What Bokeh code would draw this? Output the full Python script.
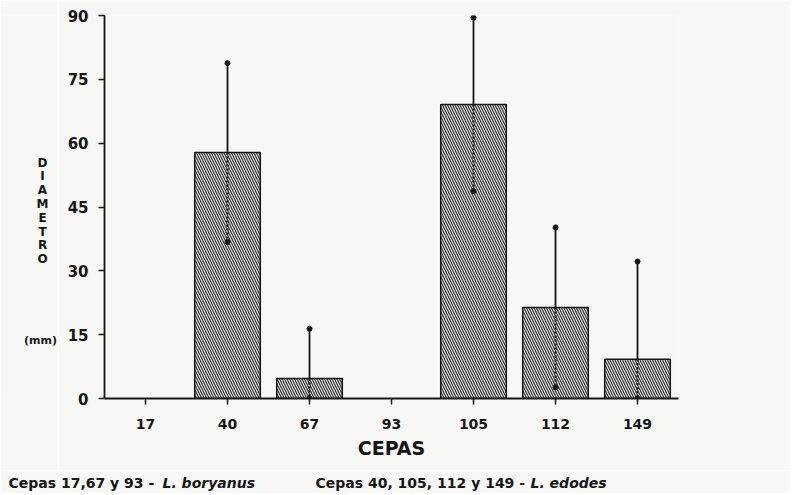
from bokeh.plotting import figure
from bokeh.models import ColumnDataSource, FactorRange, Range1d, FixedTicker
from bokeh.layouts import column, row
from bokeh.core.properties import value
from bokeh.embed import file_html
from bokeh.resources import INLINE

cepas = ["17", "40", "67", "93", "105", "112", "149"]
diametro = [0, 57.8, 4.7, 0, 69.1, 21.4, 9.2]
error = [0, 21.0, 11.7, 0, 20.4, 18.8, 23.0]
y_ticks = [0, 15, 30, 45, 60, 75, 90]
y_title = ["D", "I", "A", "M", "E", "T", "R", "O"]
unit = "(mm)"
x_title = "CEPAS"
captions = ["Cepas 17,67 y 93 - ", "L. boryanus", "Cepas 40, 105, 112 y 149 - ", "L. edodes"]

FONT = "DejaVu Sans"
BG = "#f7f7f5"
INK = "#151515"

# page geometry (pixels)
TOTAL_W = 790
LW = 58            # left title panel width
MH = 470           # main chart height
CH = 23            # caption strip height
FRAME_L, FRAME_R, FRAME_T, FRAME_B = 104, 678, 15, 398

def blank(fig):
    fig.background_fill_color = BG
    fig.border_fill_color = BG
    fig.outline_line_color = None
    fig.grid.visible = False

# ---------- left panel with stacked y title (its frame is aligned with main frame) ----------
yl = figure(width=LW, height=MH, x_range=Range1d(0, LW), y_range=Range1d(FRAME_B, FRAME_T),
            output_backend="svg", toolbar_location=None, min_border=0,
            min_border_top=FRAME_T, min_border_bottom=MH - FRAME_B)
blank(yl)
yl.axis.visible = False
yl.text(x=[42] * len(y_title), y=[162 + k * 13.8 for k in range(len(y_title))],
        text=y_title, text_font=value(FONT), text_font_style="bold", text_font_size="12px",
        text_color=INK, text_align="center", text_baseline="middle")
yl.text(x=[40], y=[340], text=[unit], text_font=value(FONT),
        text_font_style="bold", text_font_size="11px", text_color=INK,
        text_align="center", text_baseline="middle")

# ---------- main chart ----------
MW = TOTAL_W - LW
p = figure(x_range=FactorRange(*cepas, range_padding=0), y_range=Range1d(0, 90),
           width=MW, height=MH, output_backend="svg", toolbar_location=None,
           min_border_left=FRAME_L - LW, min_border_right=MW - (FRAME_R - LW),
           min_border_top=FRAME_T, min_border_bottom=MH - FRAME_B)
blank(p)

idx = [i for i, v in enumerate(diametro) if v > 0]
src = ColumnDataSource(dict(
    x=[cepas[i] for i in idx],
    top=[diametro[i] for i in idx],
    hi=[diametro[i] + error[i] for i in idx],
    lo=[max(0, diametro[i] - error[i]) for i in idx],
))
p.vbar(x="x", top="top", bottom=0, width=0.8, source=src,
       fill_color="#e4e4e4", line_color=INK, line_width=1.5,
       hatch_pattern="\\", hatch_color="#2a2a2a", hatch_scale=5, hatch_weight=1.1)
p.segment(x0="x", y0="top", x1="x", y1="hi", source=src, line_color=INK, line_width=1.8)
p.segment(x0="x", y0="top", x1="x", y1="lo", source=src, line_color=INK,
          line_width=2.2, line_dash="2 2")
p.scatter(x="x", y="hi", source=src, size=5, color=INK)
p.scatter(x="x", y="lo", source=src, size=5, color=INK)

p.yaxis.ticker = FixedTicker(ticks=y_ticks)
p.yaxis.minor_tick_line_color = None
p.yaxis.major_tick_out = 6
p.yaxis.major_tick_in = 0
p.yaxis.major_label_standoff = 10
for ax in (p.xaxis, p.yaxis):
    ax.axis_line_width = 1.8
    ax.axis_line_color = INK
    ax.major_tick_line_width = 1.5
    ax.major_tick_line_color = INK
    ax.major_label_text_font = FONT
    ax.major_label_text_font_style = "bold"
    ax.major_label_text_color = INK
p.yaxis.major_label_text_font_size = "15px"
p.xaxis.major_label_text_font_size = "14px"
p.xaxis.major_tick_out = 6
p.xaxis.major_tick_in = 0
p.xaxis.major_label_standoff = 14
p.xaxis.axis_label = x_title
p.xaxis.axis_label_text_font = FONT
p.xaxis.axis_label_text_font_style = "bold"
p.xaxis.axis_label_text_font_size = "19px"
p.xaxis.axis_label_text_color = INK
p.xaxis.axis_label_standoff = 5

# ---------- caption strip ----------
cap = figure(width=TOTAL_W, height=CH, x_range=Range1d(0, TOTAL_W), y_range=Range1d(MH + CH, MH),
             output_backend="svg", toolbar_location=None, min_border=0)
blank(cap)
cap.axis.visible = False
cap_x = [8, 162, 315, 530]
cap_style = ["bold", "bold italic", "bold", "bold italic"]
for cx, t, st in zip(cap_x, captions, cap_style):
    cap.text(x=[cx], y=[482], text=[t], text_font=value(FONT),
             text_font_style=st, text_font_size="14px", text_color=INK,
             text_align="left", text_baseline="middle")

layout = column(row(yl, p, spacing=0), cap, spacing=0)
open("out.html", "w").write(file_html(layout, INLINE))
